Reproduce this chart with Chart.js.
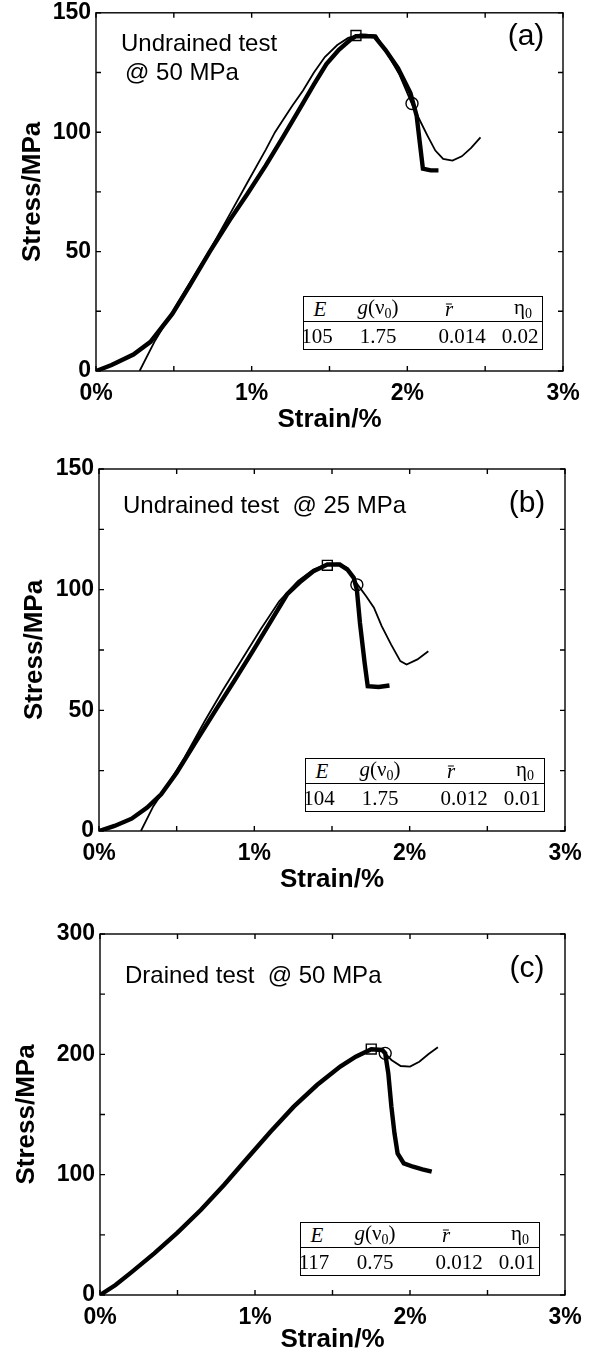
<!DOCTYPE html>
<html>
<head>
<meta charset="utf-8">
<title>Stress-strain curves (a) (b) (c)</title>
<script src="https://cdn.jsdelivr.net/npm/chart.js"></script>
<style>
  body { margin: 0; background: #fff; }
  #page { position: relative; width: 594px; height: 1357px; overflow: hidden; font-family: "Liberation Sans", Arial, sans-serif; color: #000; }
  .panel { position: absolute; left: 0; width: 594px; }
  .note { position: absolute; font-size: 24px; line-height: 1; transform: translateY(-50%); white-space: nowrap; }
  .tag { position: absolute; font-size: 30px; line-height: 1; transform: translate(-50%, -50%); }
  .params { position: absolute; width: 238px; height: 52px; border: 1.5px solid #000; background: #fff;
            font-family: "Liberation Serif", "Times New Roman", serif; font-size: 21px; }
  .params .row { position: absolute; left: 0; right: 0; }
  .params .head { top: 0; height: 24px; border-bottom: 1.5px solid #000; }
  .params .vals { top: 25px; height: 27px; }
  .params span { position: absolute; top: 50%; transform: translate(-50%, -50%); line-height: 1; white-space: nowrap; }
  .params sub { font-size: 14px; vertical-align: -4px; }
  .rbar { position: relative; display: inline-block; }
  .rbar::before { content: ""; position: absolute; left: 15%; width: 75%; top: 0.22em; border-top: 1.5px solid #000; }
</style>
</head>
<body>
<div id="page">
  <div class="panel" style="top:-6px;height:452px"><canvas id="chartA"></canvas></div>
  <div class="panel" style="top:446px;height:460px"><canvas id="chartB"></canvas></div>
  <div class="panel" style="top:906px;height:451px"><canvas id="chartC"></canvas></div>

  <div class="note" style="left:121px;top:43px">Undrained test</div>
  <div class="note" style="left:125px;top:72px">@ 50 MPa</div>
  <div class="tag" style="left:526px;top:35px">(a)</div>

  <div class="note" style="left:123px;top:505px">Undrained test&nbsp; @ 25 MPa</div>
  <div class="tag" style="left:527px;top:502px">(b)</div>

  <div class="note" style="left:125px;top:975px">Drained test&nbsp; @ 50 MPa</div>
  <div class="tag" style="left:527px;top:967px">(c)</div>

  <div class="params" style="left:303px;top:296px">
    <div class="row head">
      <span style="left:16px"><i>E</i></span>
      <span style="left:74px"><i>g</i>(ν<sub>0</sub>)</span>
      <span style="left:145px"><i class="rbar">r</i></span>
      <span style="left:219px">η<sub>0</sub></span>
    </div>
    <div class="row vals">
      <span style="left:13px">105</span>
      <span style="left:74px">1.75</span>
      <span style="left:158px">0.014</span>
      <span style="left:216px">0.02</span>
    </div>
  </div>

  <div class="params" style="left:305px;top:758px">
    <div class="row head">
      <span style="left:16px"><i>E</i></span>
      <span style="left:74px"><i>g</i>(ν<sub>0</sub>)</span>
      <span style="left:145px"><i class="rbar">r</i></span>
      <span style="left:219px">η<sub>0</sub></span>
    </div>
    <div class="row vals">
      <span style="left:13px">104</span>
      <span style="left:74px">1.75</span>
      <span style="left:158px">0.012</span>
      <span style="left:216px">0.01</span>
    </div>
  </div>

  <div class="params" style="left:300px;top:1222px">
    <div class="row head">
      <span style="left:16px"><i>E</i></span>
      <span style="left:74px"><i>g</i>(ν<sub>0</sub>)</span>
      <span style="left:145px"><i class="rbar">r</i></span>
      <span style="left:219px">η<sub>0</sub></span>
    </div>
    <div class="row vals">
      <span style="left:13px">117</span>
      <span style="left:74px">0.75</span>
      <span style="left:158px">0.012</span>
      <span style="left:216px">0.01</span>
    </div>
  </div>
</div>

<script>
// tick labels
const strainLabels = [0, 1, 2, 3];
const stressLabelsAB = [0, 50, 100, 150];
const stressLabelsC = [0, 100, 200, 300];

// (a) undrained test @ 50 MPa
const aThickStrain = [0, 0.10, 0.24, 0.35, 0.49, 0.60, 0.73, 0.86, 0.97, 1.09, 1.20, 1.31, 1.40, 1.48, 1.56, 1.63, 1.67, 1.73, 1.79, 1.86, 1.94, 2.02, 2.06, 2.08, 2.10, 2.15, 2.20];
const aThickStress = [0, 2.5, 6.9, 12.2, 23.9, 35.6, 49.9, 63.3, 73.9, 86.0, 97.8, 110.0, 120.0, 128.5, 134.5, 138.5, 140.2, 140.3, 140.0, 134.4, 126.8, 116.4, 106.8, 95.7, 84.7, 84.0, 84.0];
const aThinStrain = [0.28, 0.38, 0.49, 0.60, 0.73, 0.86, 0.97, 1.09, 1.15, 1.20, 1.26, 1.33, 1.40, 1.47, 1.55, 1.62, 1.70, 1.80, 1.87, 1.95, 2.03, 2.08, 2.13, 2.18, 2.23, 2.29, 2.35, 2.41, 2.47];
const aThinStress = [0, 12.8, 24.6, 36.5, 50.5, 65.7, 78.6, 92.6, 100.0, 105.0, 111.0, 117.5, 125.0, 131.5, 136.5, 139.5, 141.0, 140.6, 133.0, 124.0, 111.8, 105.0, 98.5, 92.3, 88.8, 88.1, 89.9, 93.4, 97.8];
const aSquare = [1.67, 140.5];
const aCircle = [2.03, 112.0];

// (b) undrained test @ 25 MPa
const bThickStrain = [0, 0.10, 0.21, 0.31, 0.40, 0.50, 0.62, 0.75, 0.87, 0.99, 1.10, 1.21, 1.30, 1.38, 1.47, 1.55, 1.60, 1.64, 1.66, 1.68, 1.71, 1.73, 1.80, 1.87];
const bThickStress = [0, 2.1, 5.1, 9.7, 15.2, 24.1, 36.6, 50.0, 62.1, 74.5, 86.2, 98.0, 103.5, 107.6, 110.4, 110.4, 108.3, 104.9, 100.0, 86.2, 69.7, 60.0, 59.7, 60.3];
const bThinStrain = [0.27, 0.35, 0.43, 0.55, 0.68, 0.80, 0.92, 1.04, 1.16, 1.28, 1.38, 1.46, 1.54, 1.60, 1.66, 1.72, 1.77, 1.82, 1.88, 1.94, 1.98, 2.05, 2.12];
const bThinStress = [0, 10.3, 17.9, 30.4, 45.5, 58.6, 71.1, 83.5, 95.2, 103.5, 108.3, 110.4, 110.8, 109.0, 102.5, 97.3, 92.5, 84.9, 77.3, 70.4, 69.0, 71.1, 74.5];
const bSquare = [1.47, 110.1];
const bCircle = [1.66, 102.0];

// (c) drained test @ 50 MPa
const cThickStrain = [0, 0.10, 0.20, 0.35, 0.50, 0.65, 0.80, 0.95, 1.10, 1.25, 1.40, 1.55, 1.65, 1.75, 1.82, 1.84, 1.86, 1.88, 1.90, 1.92, 1.96, 2.02, 2.08, 2.14];
const cThickStress = [0, 8.3, 18.6, 34.6, 51.8, 70.6, 91.4, 113.6, 135.7, 156.5, 174.5, 189.8, 198.0, 204.2, 203.6, 200.8, 184.2, 156.5, 134.3, 117.7, 109.4, 106.6, 104.4, 102.5];
const cThinStrain = [0, 0.10, 0.20, 0.35, 0.50, 0.65, 0.80, 0.95, 1.10, 1.25, 1.40, 1.55, 1.65, 1.75, 1.82, 1.84, 1.88, 1.94, 2.00, 2.06, 2.12, 2.18];
const cThinStress = [0, 8.3, 18.6, 34.6, 51.8, 70.6, 91.4, 113.6, 135.7, 156.5, 174.5, 189.8, 198.0, 204.2, 203.6, 200.8, 195.3, 190.3, 189.8, 193.9, 200.3, 205.8];
const cSquare = [1.75, 204.4];
const cCircle = [1.84, 200.8];

const family = "'Liberation Sans', Arial, Helvetica, sans-serif";

function pts(xs, ys) {
  return xs.map((x, i) => ({ x: x, y: ys[i] }));
}

// box round the plot area, ticks pointing inward on all four sides
const framePlugin = {
  id: 'frame',
  afterDraw(chart) {
    const { ctx, chartArea: a, scales: { x, y } } = chart;
    ctx.save();
    ctx.strokeStyle = '#000';
    ctx.lineWidth = 1.4;
    ctx.strokeRect(a.left, a.top, a.right - a.left, a.bottom - a.top);
    ctx.beginPath();
    x.ticks.forEach(t => {
      const px = x.getPixelForValue(t.value);
      ctx.moveTo(px, a.bottom); ctx.lineTo(px, a.bottom - 5);
      ctx.moveTo(px, a.top); ctx.lineTo(px, a.top + 5);
    });
    y.ticks.forEach(t => {
      const py = y.getPixelForValue(t.value);
      ctx.moveTo(a.left, py); ctx.lineTo(a.left + 5, py);
      ctx.moveTo(a.right, py); ctx.lineTo(a.right - 5, py);
    });
    ctx.stroke();
    ctx.restore();
  }
};

function makePanel(id, p) {
  return new Chart(document.getElementById(id), {
    type: 'scatter',
    data: {
      datasets: [
        { data: pts(p.thinX, p.thinY), showLine: true, borderColor: '#000', borderWidth: 1.8, pointRadius: 0 },
        { data: pts(p.thickX, p.thickY), showLine: true, borderColor: '#000', borderWidth: 4.4, pointRadius: 0 },
        { data: [{ x: p.square[0], y: p.square[1] }], pointStyle: 'rect', pointRadius: 7,
          borderColor: '#000', borderWidth: 1.4, backgroundColor: 'rgba(0,0,0,0)' },
        { data: [{ x: p.circle[0], y: p.circle[1] }], pointStyle: 'circle', pointRadius: 6,
          borderColor: '#000', borderWidth: 1.4, backgroundColor: 'rgba(0,0,0,0)' }
      ]
    },
    options: {
      responsive: true,
      maintainAspectRatio: false,
      animation: false,
      layout: { padding: { top: p.padTop, right: p.padRight, left: 0, bottom: 0 } },
      plugins: { legend: { display: false }, tooltip: { enabled: false } },
      scales: {
        x: {
          type: 'linear', min: 0, max: 3,
          grid: { display: false, drawTicks: false },
          border: { display: false },
          ticks: {
            stepSize: 0.5, autoSkip: false, maxRotation: 0, padding: 9, color: '#000',
            font: { family: family, size: 23, weight: 'bold' },
            callback: v => strainLabels.includes(v) ? v + '%' : ''
          },
          title: { display: true, text: 'Strain/%', color: '#000',
                   font: { family: family, size: 26, weight: 'bold' }, padding: { top: 0, bottom: p.xTitlePad } },
          afterFit: s => { s.height = p.xHeight; }
        },
        y: {
          type: 'linear', min: 0, max: p.yMax,
          grid: { display: false, drawTicks: false },
          border: { display: false },
          ticks: {
            stepSize: p.yStep, autoSkip: false, padding: 5, color: '#000',
            font: { family: family, size: 23, weight: 'bold' },
            callback: v => p.yLabels.includes(v) ? String(v) : ''
          },
          title: { display: true, text: 'Stress/MPa', color: '#000',
                   font: { family: family, size: 26, weight: 'bold' }, padding: { top: p.yTitlePad, bottom: 0 } },
          afterFit: s => { s.width = p.yWidth; }
        }
      }
    },
    plugins: [framePlugin]
  });
}

makePanel('chartA', {
  thickX: aThickStrain, thickY: aThickStress, thinX: aThinStrain, thinY: aThinStress,
  square: aSquare, circle: aCircle, yMax: 150, yStep: 25, yLabels: stressLabelsAB,
  padTop: 15, padRight: 31, yWidth: 96, xHeight: 75, xTitlePad: 11, yTitlePad: 17
});
makePanel('chartB', {
  thickX: bThickStrain, thickY: bThickStress, thinX: bThinStrain, thinY: bThinStress,
  square: bSquare, circle: bCircle, yMax: 150, yStep: 25, yLabels: stressLabelsAB,
  padTop: 23, padRight: 29, yWidth: 99, xHeight: 75, xTitlePad: 11, yTitlePad: 19
});
makePanel('chartC', {
  thickX: cThickStrain, thickY: cThickStress, thinX: cThinStrain, thinY: cThinStress,
  square: cSquare, circle: cCircle, yMax: 300, yStep: 50, yLabels: stressLabelsC,
  padTop: 28, padRight: 29, yWidth: 100, xHeight: 62, xTitlePad: 2, yTitlePad: 11
});
</script>
</body>
</html>
